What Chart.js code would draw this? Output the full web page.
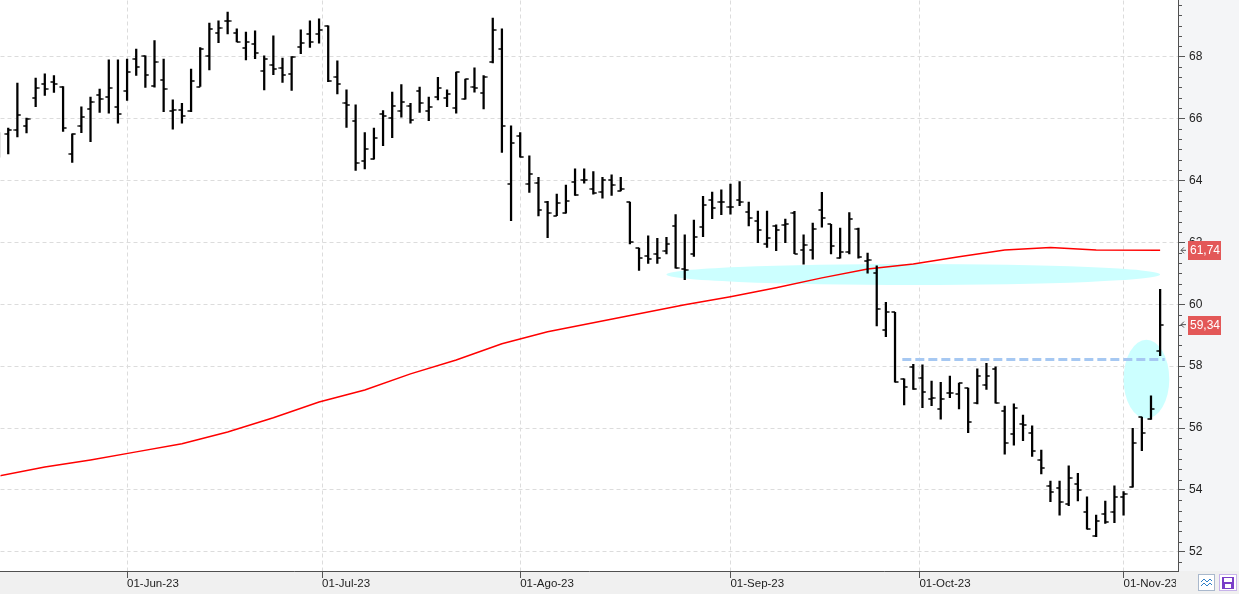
<!DOCTYPE html>
<html>
<head>
<meta charset="utf-8">
<script src="https://cdn.jsdelivr.net/npm/chart.js@4.4.0/dist/chart.umd.min.js"></script>
<style>
  html, body { margin: 0; padding: 0; background: #fff; }
  canvas { display: block; }
</style>
</head>
<body>
<canvas id="chart" width="1239" height="594"></canvas>
<script>
// daily bars, one per trading day (index 0 = 11-May-23, index 127 = 07-Nov-23)
const opens = [
  65.30, 65.49, 65.63, 65.76, 66.66, 67.11, 67.18, 67.01, 64.85, 65.74,
  66.30, 66.75, 66.69, 66.38, 66.89, 67.92, 68.00, 67.06, 67.24, 66.25,
  66.28, 66.25, 67.03, 68.02, 68.76, 69.14, 68.76, 68.27, 68.40, 67.52,
  67.71, 67.62, 67.43, 68.32, 68.72, 68.72, 68.97, 67.33, 66.49, 65.92,
  64.64, 64.68, 66.14, 66.01, 66.25, 66.41, 66.87, 66.25, 66.69, 66.66,
  66.33, 66.62, 67.03, 66.82, 67.82, 68.24, 63.88, 65.42, 63.88, 63.91,
  63.30, 62.86, 62.94, 63.94, 64.02, 63.72, 63.62, 64.02, 63.66, 63.30,
  61.81, 61.56, 61.62, 61.72, 62.53, 61.13, 61.62, 62.49, 63.37, 63.30,
  63.13, 63.37, 62.99, 62.70, 61.94, 62.53, 62.56, 62.94, 61.75, 61.75,
  63.05, 62.58, 61.49, 61.68, 62.43, 61.40, 61.00, 59.17, 59.74, 57.59,
  57.98, 57.61, 56.94, 56.61, 57.14, 57.09, 57.29, 56.82, 57.39, 57.90,
  56.55, 55.80, 56.13, 55.83, 54.97, 54.13, 54.06, 53.54, 54.18, 53.28,
  52.52, 53.21, 53.30, 53.76, 54.11, 56.35, 56.28, 58.50
];
const highs = [
  65.54, 65.69, 67.14, 66.01, 67.30, 67.44, 67.38, 67.03, 65.50, 66.37,
  66.69, 66.95, 67.89, 67.89, 67.92, 68.24, 68.02, 68.51, 67.92, 66.60,
  66.49, 67.59, 68.29, 69.08, 69.15, 69.43, 68.89, 68.79, 68.83, 68.02,
  68.67, 67.95, 68.00, 68.86, 69.15, 69.22, 68.99, 67.86, 66.92, 66.44,
  65.54, 65.69, 66.25, 66.85, 67.09, 66.49, 67.01, 66.69, 67.33, 66.92,
  67.50, 67.27, 67.63, 67.38, 69.24, 68.89, 65.76, 65.54, 64.79, 64.10,
  63.32, 63.56, 63.85, 64.37, 64.37, 64.28, 64.10, 64.18, 64.10, 63.30,
  61.81, 62.21, 62.13, 62.16, 62.89, 62.24, 62.72, 63.48, 63.62, 63.69,
  63.88, 63.96, 63.30, 63.01, 63.01, 62.56, 62.75, 63.00, 62.24, 62.62,
  63.61, 62.58, 62.46, 62.96, 62.46, 61.65, 61.24, 60.06, 59.74, 57.59,
  58.06, 58.04, 57.52, 57.48, 57.68, 57.45, 57.29, 57.91, 58.09, 57.98,
  56.71, 56.78, 56.42, 56.07, 55.29, 54.29, 54.29, 54.78, 54.54, 53.78,
  53.19, 53.64, 54.13, 53.95, 55.99, 56.35, 57.04, 60.48
];
const lows = [
  64.75, 64.85, 65.40, 65.53, 66.38, 66.74, 66.84, 65.58, 64.58, 65.54,
  65.25, 66.19, 66.17, 65.85, 66.58, 67.39, 67.00, 67.01, 66.22, 65.65,
  65.85, 66.22, 67.03, 67.57, 68.45, 68.73, 68.47, 67.89, 67.93, 66.92,
  67.41, 67.16, 66.90, 68.09, 68.29, 68.43, 67.19, 66.79, 65.71, 64.32,
  64.37, 64.68, 65.12, 65.38, 66.04, 65.85, 66.19, 65.93, 66.60, 66.38,
  66.17, 66.62, 66.85, 66.31, 67.79, 64.90, 62.70, 64.75, 63.61, 62.85,
  62.15, 62.86, 62.94, 63.51, 63.91, 63.55, 63.42, 63.51, 63.66, 61.95,
  61.09, 61.32, 61.32, 61.62, 61.16, 60.79, 61.54, 62.18, 62.76, 62.89,
  62.91, 63.18, 62.53, 61.99, 61.83, 61.73, 61.99, 61.63, 61.29, 61.45,
  62.49, 61.62, 61.49, 61.62, 61.49, 61.00, 59.30, 58.95, 57.48, 56.75,
  57.25, 56.66, 56.72, 56.29, 56.98, 56.62, 55.85, 56.78, 57.25, 56.80,
  55.16, 55.45, 55.59, 55.08, 54.52, 53.62, 53.19, 53.49, 53.65, 52.73,
  52.49, 52.92, 52.94, 53.19, 54.09, 55.27, 56.28, 58.34
];
const closes = [
  65.08, 65.63, 66.12, 65.99, 66.98, 66.95, 67.11, 65.69, 65.50, 66.04,
  66.53, 66.62, 66.98, 66.14, 67.50, 67.66, 67.39, 67.82, 66.95, 66.26,
  66.08, 67.21, 68.25, 68.89, 68.92, 69.14, 68.48, 68.48, 68.11, 67.92,
  67.59, 67.39, 67.98, 68.43, 68.48, 68.85, 67.21, 67.11, 66.43, 64.56,
  65.01, 65.36, 66.09, 66.41, 66.53, 65.95, 66.49, 66.38, 66.98, 66.79,
  67.50, 67.27, 66.98, 67.35, 68.84, 65.77, 65.20, 64.75, 64.20, 63.05,
  62.94, 63.26, 63.34, 63.53, 64.02, 63.59, 64.02, 63.85, 63.73, 62.02,
  61.49, 61.46, 61.49, 61.94, 61.16, 61.11, 62.16, 63.19, 63.10, 63.30,
  63.15, 63.30, 62.78, 62.40, 62.13, 62.40, 62.59, 61.63, 61.92, 62.43,
  62.78, 61.88, 61.68, 62.75, 61.51, 61.43, 59.84, 59.74, 57.50, 57.32,
  57.25, 57.16, 56.96, 56.93, 57.12, 57.45, 56.21, 57.68, 57.68, 56.80,
  55.51, 56.64, 56.10, 55.26, 54.70, 53.95, 53.62, 54.38, 54.00, 52.73,
  53.00, 52.97, 53.76, 53.87, 55.53, 55.85, 56.62, 59.34
];

// moving average (red line), read at every fifth bar
const maIndex = [0, 5, 10, 15, 20, 25, 30, 35, 40, 45, 50, 55, 60, 65, 70, 75, 80, 85, 90, 95, 100, 105, 110, 115, 120, 127];
const maValues = [54.45, 54.74, 54.97, 55.23, 55.49, 55.87, 56.33, 56.84, 57.23, 57.75, 58.20, 58.72, 59.11, 59.40, 59.69, 59.98, 60.24, 60.53, 60.85, 61.14, 61.30, 61.53, 61.75, 61.83, 61.75, 61.74];

// month marks (weekend dates fall between bars)
const monthPos = [14, 35.333, 57, 80, 100.667, 123];
const monthLabels = ['01-Jun-23', '01-Jul-23', '01-Ago-23', '01-Sep-23', '01-Oct-23', '01-Nov-23'];
const priceTicks = [52, 54, 56, 58, 60, 62, 64, 66, 68];

// drawn annotations
const supportLevel = 58.24;
const supportFrom = 98.8;
const supportTo = 127.5;
const zones = [
  { x: 100.0, y: 60.96, rx: 27.0, ry: 0.34 },
  { x: 125.5, y: 57.58, rx: 2.5, ry: 1.27 }
];

const FONT = 'Liberation Sans, Arial, sans-serif';
const idx = highs.map((_, i) => i);

function tickMark(side) {
  const c = document.createElement('canvas');
  c.width = 8;
  c.height = 2;
  const g = c.getContext('2d');
  g.fillStyle = '#000';
  g.fillRect(side === 'left' ? 0.5 : 4, 0.25, 3.5, 1.5);
  return c;
}

const panels = {
  id: 'panels',
  beforeDraw(chart) {
    const { ctx, chartArea: a, width, height } = chart;
    ctx.save();
    ctx.fillStyle = '#f4f5f7';
    ctx.fillRect(a.right, 0, width - a.right, a.bottom);
    ctx.fillStyle = '#f0f0f0';
    ctx.fillRect(0, a.bottom, width, height - a.bottom);
    ctx.restore();
  },
  beforeDatasetsDraw(chart) {
    const { ctx, chartArea: a, scales: { x, y } } = chart;
    ctx.save();
    ctx.beginPath();
    ctx.rect(a.left, a.top, a.width, a.height);
    ctx.clip();
    ctx.fillStyle = '#ccffff';
    zones.forEach(z => {
      const cx = x.getPixelForValue(z.x);
      const cy = y.getPixelForValue(z.y);
      const rx = Math.abs(x.getPixelForValue(z.x + z.rx) - cx);
      const ry = Math.abs(y.getPixelForValue(z.y + z.ry) - cy);
      ctx.beginPath();
      ctx.ellipse(cx, cy, rx, ry, 0, 0, Math.PI * 2);
      ctx.fill();
    });
    ctx.restore();
  },
  afterDatasetsDraw(chart) {
    const { ctx, scales: { x, y } } = chart;
    const py = Math.round(y.getPixelForValue(supportLevel)) + 0.5;
    ctx.save();
    ctx.strokeStyle = '#a6c8f2';
    ctx.lineWidth = 3;
    ctx.setLineDash([9, 4]);
    ctx.beginPath();
    ctx.moveTo(x.getPixelForValue(supportFrom), py);
    ctx.lineTo(x.getPixelForValue(supportTo), py);
    ctx.stroke();
    ctx.restore();
  },
  afterDraw(chart) {
    const { ctx, chartArea: a, scales: { y } } = chart;
    ctx.save();
    // minor ticks on the price axis
    ctx.strokeStyle = '#555';
    ctx.lineWidth = 1;
    for (let k = -2; k <= 56; k++) {
      if (k % 6 === 0) continue;
      const py = Math.round(y.getPixelForValue(52 + k / 3)) + 0.5;
      if (py < a.top || py > a.bottom) continue;
      ctx.beginPath();
      ctx.moveTo(a.right, py);
      ctx.lineTo(a.right + 4, py);
      ctx.stroke();
    }
    // last value tags
    const tag = (value) => {
      const py = y.getPixelForValue(value);
      ctx.fillStyle = '#e35858';
      ctx.fillRect(a.right + 10, Math.round(py) - 9, 33, 19);
      ctx.fillStyle = '#fff';
      ctx.font = '12px ' + FONT;
      ctx.textAlign = 'left';
      ctx.textBaseline = 'middle';
      ctx.fillText(value.toFixed(2).replace('.', ','), a.right + 12, Math.round(py) + 1);
      ctx.strokeStyle = '#555';
      ctx.beginPath();
      ctx.moveTo(a.right + 6, py - 3);
      ctx.lineTo(a.right + 3, py);
      ctx.lineTo(a.right + 6, py + 3);
      ctx.moveTo(a.right + 3, py);
      ctx.lineTo(a.right + 8, py);
      ctx.stroke();
    };
    tag(maValues[maValues.length - 1]);
    tag(closes[closes.length - 1]);
    // bottom-right buttons
    ctx.fillStyle = '#f0f0f0';
    ctx.fillRect(a.right - 2, a.bottom + 1, 70, 23);
    ctx.fillStyle = '#fff';
    ctx.strokeStyle = '#a9b8cc';
    ctx.fillRect(1198.5, 574.5, 16, 16);
    ctx.strokeRect(1198.5, 574.5, 16, 16);
    ctx.strokeStyle = '#2f7fc8';
    ctx.beginPath();
    ctx.moveTo(1201, 582); ctx.lineTo(1204, 579); ctx.lineTo(1207, 582); ctx.lineTo(1210, 579); ctx.lineTo(1212, 581);
    ctx.moveTo(1201, 586); ctx.lineTo(1204, 583); ctx.lineTo(1207, 586); ctx.lineTo(1210, 583); ctx.lineTo(1212, 585);
    ctx.stroke();
    ctx.fillStyle = '#fff';
    ctx.strokeStyle = '#c7b3ea';
    ctx.fillRect(1219.5, 574.5, 17, 16);
    ctx.strokeRect(1219.5, 574.5, 17, 16);
    ctx.fillStyle = '#7a3fc8';
    ctx.fillRect(1222, 577, 12, 12);
    ctx.fillStyle = '#fff';
    ctx.fillRect(1224, 578, 8, 4);
    ctx.fillRect(1225, 584, 6, 4);
    ctx.restore();
  }
};

new Chart(document.getElementById('chart'), {
  type: 'bar',
  data: {
    datasets: [
      {
        type: 'bar',
        data: idx.map(i => ({ x: i, y: [lows[i], highs[i]] })),
        backgroundColor: '#000',
        borderWidth: 0,
        barThickness: 1.6,
        grouped: false,
        order: 1
      },
      {
        type: 'scatter',
        data: idx.map(i => ({ x: i, y: opens[i] })),
        pointStyle: tickMark('left'),
        pointRadius: 0.5,
        pointHoverRadius: 0,
        pointBorderWidth: 0,
        order: 0
      },
      {
        type: 'scatter',
        data: idx.map(i => ({ x: i, y: closes[i] })),
        pointStyle: tickMark('right'),
        pointRadius: 0.5,
        pointHoverRadius: 0,
        pointBorderWidth: 0,
        order: 0
      },
      {
        type: 'line',
        data: maIndex.map((v, k) => ({ x: v, y: maValues[k] })),
        borderColor: '#ff0000',
        borderWidth: 1.5,
        pointRadius: 0,
        pointHoverRadius: 0,
        pointBorderWidth: 0,
        tension: 0,
        order: 2
      }
    ]
  },
  options: {
    responsive: false,
    maintainAspectRatio: false,
    animation: false,
    events: [],
    layout: { padding: 0 },
    plugins: {
      legend: { display: false },
      tooltip: { enabled: false }
    },
    scales: {
      x: {
        type: 'linear',
        position: 'bottom',
        offset: false,
        min: 0.154,
        max: 128.954,
        afterBuildTicks: s => { s.ticks = monthPos.map(v => ({ value: v })); },
        afterFit: s => { s.height = 23; s.paddingLeft = 0; s.paddingRight = 0; },
        ticks: {
          autoSkip: false,
          minRotation: 0,
          maxRotation: 0,
          align: 'start',
          padding: 0,
          color: '#222',
          font: { family: FONT, size: 11.5, lineHeight: 1 },
          callback: (v, i) => monthLabels[i]
        },
        grid: { offset: false, color: '#dcdcdc', tickColor: '#555', tickLength: 7, lineWidth: 1 },
        border: { color: '#505050', width: 1, dash: [4, 3] }
      },
      y: {
        type: 'linear',
        position: 'right',
        min: 51.383,
        max: 69.808,
        afterBuildTicks: s => { s.ticks = priceTicks.map(v => ({ value: v })); },
        afterFit: s => { s.width = 61; s.paddingTop = 0; s.paddingBottom = 0; },
        ticks: {
          padding: 4,
          color: '#222',
          font: { family: FONT, size: 12 },
          callback: v => String(v)
        },
        grid: { color: '#dcdcdc', tickColor: '#555', tickLength: 7, lineWidth: 1 },
        border: { color: '#505050', width: 1, dash: [4, 3] }
      }
    }
  },
  plugins: [panels]
});
</script>
</body>
</html>
